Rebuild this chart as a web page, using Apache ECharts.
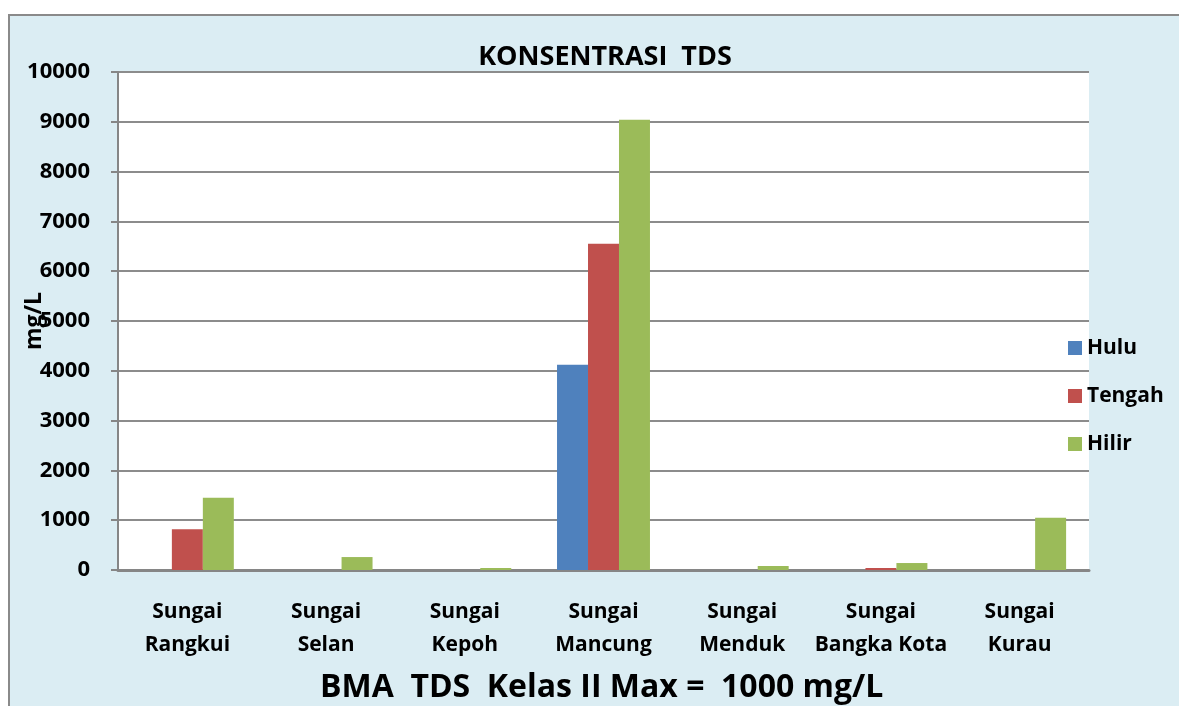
<!DOCTYPE html>
<html>
<head>
<meta charset="utf-8">
<script src="https://cdn.jsdelivr.net/npm/echarts@6/dist/echarts.min.js"></script>
<style>
  html, body { margin: 0; padding: 0; background: #fff; }
  #chart { width: 1179px; height: 706px; }
</style>
</head>
<body>
<div id="chart"></div>
<script>
(function(){
	// data
	var categories = ['Sungai\nRangkui', 'Sungai\nSelan', 'Sungai\nKepoh', 'Sungai\nMancung', 'Sungai\nMenduk', 'Sungai\nBangka Kota', 'Sungai\nKurau'];
	var hulu   = [0, 0, 0, 4120, 0, 0, 0];
	var tengah = [820, 0, 0, 6550, 0, 40, 0];
	var hilir  = [1450, 260, 40, 9040, 80, 140, 1050];
	var yTicks = { min: 0, max: 10000, interval: 1000 };

	var font = '"Open Sans", Lato, sans-serif';
	var gridColor = '#8c8c8c';

	function bar(name, data, color){
		return {
			name: name,
			type: 'bar',
			data: data,
			barGap: 0,
			barCategoryGap: '33%',
			itemStyle: { color: color },
			animation: false
		};
	}

	var myChart = echarts.init(document.getElementById('chart'));
	myChart.setOption({
		backgroundColor: '#fff',
		textStyle: { fontFamily: font },
		graphic: [{
			type: 'rect',
			z: -10,
			shape: { x: 9, y: 15, width: 1200, height: 720 },
			style: { fill: '#dbedf3', stroke: '#8a8a8a', lineWidth: 2 }
		}, {
			type: 'text',
			left: 320,
			top: 672,
			style: {
				text: 'BMA  TDS  Kelas II Max =  1000 mg/L',
				font: 'bold 32px ' + font,
				fill: '#000'
			}
		}],
		title: {
			text: 'KONSENTRASI  TDS',
			left: 600,
			textAlign: 'center',
			top: 39,
			textStyle: { fontSize: 27, fontWeight: 'bold', color: '#000', fontFamily: font }
		},
		legend: {
			orient: 'vertical',
			left: 1063,
			top: 332,
			itemWidth: 14,
			itemHeight: 14,
			itemGap: 26,
			icon: 'rect',
			textStyle: { fontSize: 21, lineHeight: 22, fontWeight: 'bold', color: '#000', fontFamily: font }
		},
		grid: {
			left: 118,
			top: 72,
			width: 971,
			height: 498,
			show: true,
			backgroundColor: '#fff',
			borderWidth: 0,
			containLabel: false,
			outerBoundsMode: 'none'
		},
		xAxis: {
			type: 'category',
			data: categories,
			axisLine: { lineStyle: { color: '#868686', width: 3 } },
			axisTick: { show: false },
			axisLabel: {
				color: '#000',
				fontSize: 21,
				fontWeight: 'bold',
				fontFamily: font,
				lineHeight: 33,
				margin: 26,
				interval: 0
			}
		},
		yAxis: {
			type: 'value',
			min: yTicks.min,
			max: yTicks.max,
			interval: yTicks.interval,
			name: 'mg/L',
			nameLocation: 'middle',
			nameGap: 72,
			nameRotate: 90,
			nameMoveOverlap: false,
			nameTextStyle: { fontSize: 23, fontWeight: 'bold', color: '#000', fontFamily: font },
			axisLine: { show: true, lineStyle: { color: '#868686', width: 2 } },
			axisTick: { show: true, length: 7, lineStyle: { color: '#868686', width: 2 } },
			axisLabel: {
				color: '#000',
				fontSize: 22,
				fontWeight: 'bold',
				fontFamily: font,
				margin: 28,
				formatter: function(v){ return String(v); }
			},
			splitLine: { lineStyle: { color: gridColor, width: 2 } }
		},
		series: [
			bar('Hulu', hulu, '#4f81bd'),
			bar('Tengah', tengah, '#c0504d'),
			bar('Hilir', hilir, '#9bbb59')
		]
	});
})();
</script>
</body>
</html>
